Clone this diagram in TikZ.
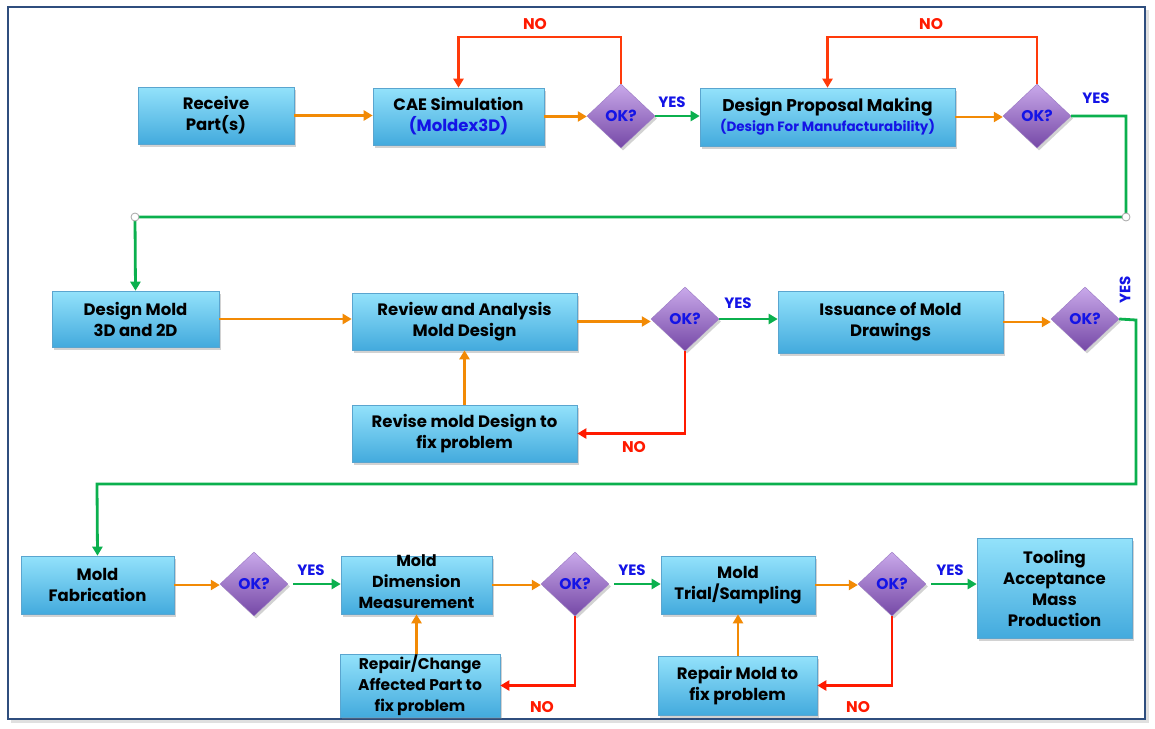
\documentclass[tikz,border=0pt]{standalone}
\usepackage{fontspec}
\setmainfont{Poppins}
\usetikzlibrary{shapes.geometric,arrows.meta,shadows}
\definecolor{boxtop}{HTML}{93E2FB}
\definecolor{boxbot}{HTML}{43AADD}
\definecolor{boxedge}{HTML}{5AA5CF}
\definecolor{diatop}{HTML}{C9A9EA}
\definecolor{diabot}{HTML}{7548A6}
\definecolor{diaedge}{HTML}{9A78C4}
\definecolor{orangec}{HTML}{F28A05}
\definecolor{greenc}{HTML}{0BB04E}
\definecolor{redc}{HTML}{FF1A00}
\definecolor{redo}{HTML}{FF3A0A}
\definecolor{bluec}{HTML}{1414E6}
\definecolor{framec}{HTML}{2F4E7E}
\tikzset{
  box/.style={draw=boxedge, line width=0.6pt, top color=boxtop, bottom color=boxbot,
    drop shadow={shadow xshift=2pt, shadow yshift=-2.5pt, opacity=0.35},
    align=center, inner sep=1pt, font=\fontsize{16.5}{21}\selectfont\bfseries},
  dia/.style={diamond, draw=diaedge, line width=0.4pt, top color=diatop, bottom color=diabot,
    drop shadow={shadow xshift=2pt, shadow yshift=-2.5pt, opacity=0.35},
    minimum width=68pt, minimum height=64pt, inner sep=0pt, text=bluec,
    font=\fontsize{15.5}{18}\selectfont\bfseries},
  oar/.style={draw=orangec, line width=2.8pt, -{Triangle[length=9pt,width=10pt]}},
  gar/.style={draw=greenc, line width=2.8pt, -{Triangle[length=9pt,width=10pt]}},
  rar/.style={draw=redc, line width=2.8pt, -{Triangle[length=9pt,width=10pt]}},
  roar/.style={draw=redo, line width=2.8pt, -{Triangle[length=9pt,width=10pt]}},
  yes/.style={text=bluec, font=\fontsize{15}{17}\selectfont\bfseries},
  no/.style={text=redc, font=\fontsize{15.5}{17}\selectfont\bfseries},
  joint/.style={draw=gray!70, fill=white, line width=0.8pt},
}
\begin{document}
\begin{tikzpicture}[x=1pt,y=-1pt]
\useasboundingbox (0,0) rectangle (1155,728);
% frame
\fill[black!12] (11,10) rectangle (1149,723);
\draw[framec, line width=1.3pt, fill=white] (8,7) rectangle (1145,719);

% Row 1
\node[box, minimum width=156pt, minimum height=57pt] (recv) at (216,115.5) {Receive\\Part(s)};
\node[box, minimum width=171pt, minimum height=57pt] (cae) at (458.5,116.5) {CAE Simulation\\\textcolor{bluec}{(Moldex3D)}};
\node[dia] (d1) at (621,116) {OK?};
\node[box, minimum width=255pt, minimum height=58pt] (dpm) at (827.5,117) {\fontsize{17}{20}\selectfont Design Proposal Making\\[-1pt]\textcolor{bluec}{\fontsize{13.5}{16}\selectfont (Design For Manufacturability)}};
\node[dia] (d2) at (1037,116) {OK?};

\draw[oar] (recv.east) -- (recv.east -| cae.west);
\draw[oar] (cae.east) -- (cae.east -| d1.west);
\draw[gar] (d1.east) -- (d1.east -| dpm.west);
\draw[oar] (dpm.east) -- (dpm.east -| d2.west);
\draw[roar] (d1.north) -- (621,37) -| (cae.north);
\draw[roar] (d2.north) -- (1037,37) -| (dpm.north);
\node[no] (no1) at (535,24) {NO};
\node[no] (no2) at (931,24) {NO};
\node[yes] (y1) at (672,102) {YES};
\node[yes] (y2) at (1096,98) {YES};

% Row 2
\node[box, minimum width=167pt, minimum height=56pt] (dm) at (135.5,319) {Design Mold\\3D and 2D};
\node[box, minimum width=225pt, minimum height=57pt] (rev) at (464.5,321.5) {Review and Analysis\\Mold Design};
\node[dia] (d3) at (685,319) {OK?};
\node[box, minimum width=225pt, minimum height=62pt] (iss) at (890.5,322) {Issuance of Mold\\Drawings};
\node[dia] (d4) at (1085,319) {OK?};
\node[box, minimum width=225pt, minimum height=57pt] (rmd) at (464.5,433.5) {Revise mold Design to\\fix problem};

\coordinate (c1) at (1126,217);
\coordinate (c2) at (135,217);
\draw[gar] (d2.east) -| (c1) -- (c2) -- (dm.north);
\draw[joint] (c1) circle (4pt);
\draw[joint] (c2) circle (4pt);

\draw[oar] (dm.east) -- (dm.east -| rev.west);
\draw[oar] (rev.east) -- (rev.east -| d3.west);
\draw[gar] (d3.east) -- (d3.east -| iss.west);
\draw[oar] (iss.east) -- (iss.east -| d4.west);
\draw[oar] (rmd.north) -- (rev.south);
\draw[rar] (d3.south) |- (rmd.east);
\node[no] (no3) at (634,447) {NO};
\node[yes] (y3) at (738,303) {YES};
\node[yes, rotate=90] (y4) at (1125,290) {YES};

% Row 3
\node[box, minimum width=153pt, minimum height=58pt] (mf) at (97.5,585) {Mold\\Fabrication};
\node[dia] (d5) at (254,584) {OK?};
\node[box, minimum width=151pt, minimum height=58pt, font=\fontsize{16}{21}\selectfont\bfseries] (mdm) at (416.5,585) {\\[-16pt]Mold\\Dimension\\Measurement};
\node[dia] (d6) at (575,584) {OK?};
\node[box, minimum width=154pt, minimum height=58pt] (mts) at (738,585) {Mold\\Trial/Sampling};
\node[dia] (d7) at (892,584) {OK?};
\node[box, minimum width=155pt, minimum height=100pt] (tam) at (1054.5,588) {Tooling\\Acceptance\\Mass\\Production};
\node[box, minimum width=160pt, minimum height=59pt, font=\fontsize{15.5}{21}\selectfont\bfseries] (rca) at (420,685.5) {Repair/Change\\Affected Part to\\fix problem};
\node[box, minimum width=159pt, minimum height=59pt] (rmf) at (737.5,685.5) {Repair Mold to\\fix problem};

\coordinate (c3) at (1136,320);
\coordinate (c4) at (1136,484);
\coordinate (c5) at (97,484);
\draw[gar] (d4.east) -- (c3) -- (c4) -- (c5) -- (mf.north);

\draw[oar] (mf.east) -- (mf.east -| d5.west);
\draw[gar, shorten <=5pt] (d5.east) -- (d5.east -| mdm.west);
\draw[oar] (mdm.east) -- (mdm.east -| d6.west);
\draw[gar, shorten <=5pt] (d6.east) -- (d6.east -| mts.west);
\draw[oar] (mts.east) -- (mts.east -| d7.west);
\draw[gar, shorten <=5pt] (d7.east) -- (d7.east -| tam.west);
\draw[oar] (rca.north -| mdm.south) -- (mdm.south);
\draw[oar] (rmf.north -| mts.south) -- (mts.south);
\draw[rar] (d6.south) |- (rca.east);
\draw[rar] (d7.south) |- (rmf.east);
\node[yes] (y5) at (311,570) {YES};
\node[yes] (y6) at (632,570) {YES};
\node[yes] (y7) at (950,570) {YES};
\node[no] (no4) at (542,707) {NO};
\node[no] (no5) at (858,707) {NO};
\end{tikzpicture}
\end{document}
